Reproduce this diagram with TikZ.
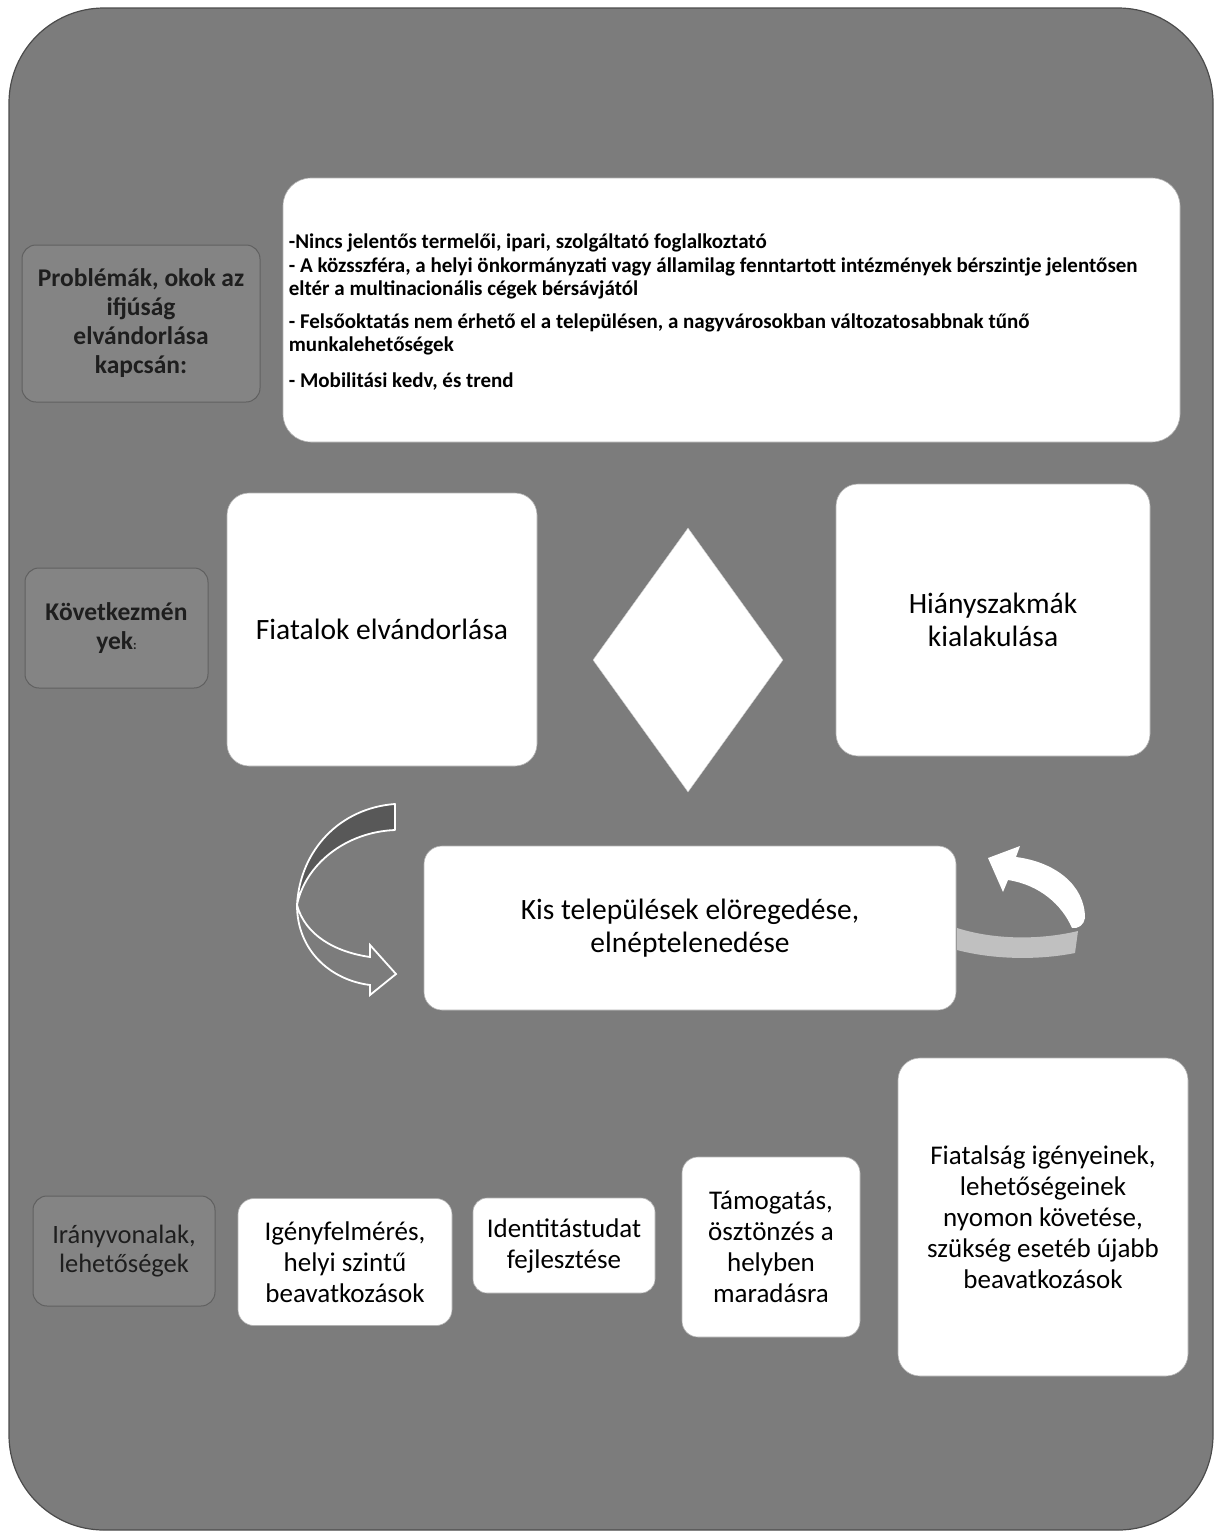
\documentclass[tikz,border=0pt]{standalone}
\usepackage{fontspec}
\setmainfont{Carlito}
\usetikzlibrary{shapes.geometric}
\definecolor{bggray}{RGB}{124,124,124}
\definecolor{framec}{RGB}{75,75,75}
\definecolor{lblfill}{RGB}{132,132,132}
\definecolor{lblborder}{RGB}{96,96,96}
\definecolor{lbltext}{RGB}{30,30,30}
\definecolor{darkband}{RGB}{88,88,88}
\definecolor{ribbon}{RGB}{192,192,192}
\begin{document}
\begin{tikzpicture}[x=1pt,y=-1pt,
  wbox/.style={draw=black!30, line width=0.6pt, fill=white, rounded corners=22pt, align=center, inner sep=4pt, text=black},
  lbox/.style={draw=lblborder, line width=1pt, fill=lblfill, rounded corners=14pt, align=center, text=lbltext, inner sep=2pt},
  lblfont/.style={font=\bfseries\fontsize{25.5}{29}\selectfont},
  bigfont/.style={font=\fontsize{29.5}{33}\selectfont},
  midfont/.style={font=\fontsize{27}{31}\selectfont},
]
\useasboundingbox (0,0) rectangle (1215,1531);
\draw[draw=framec, fill=bggray, line width=1.2pt, rounded corners=95pt] (9,8) rectangle (1213,1530);

% top row
\node[lbox, lblfont, minimum width=238pt, minimum height=157pt] (lab1) at (141,323.5)
  {Problémák, okok az\\ifjúság\\elvándorlása\\kapcsán:};
\node[wbox, rounded corners=28pt, minimum width=897pt, minimum height=264pt] (causes) at (731.5,310) {};
\node[anchor=west, align=left, inner sep=0pt, text=black,
  font=\bfseries\fontsize{21}{23.5}\selectfont] (causestext) at ([xshift=6pt,yshift=-2pt]causes.west)
  {-Nincs jelentős termelői, ipari, szolgáltató foglalkoztató\\
   - A közsszféra, a helyi önkormányzati vagy államilag fenntartott intézmények bérszintje jelentősen\\
   eltér a multinacionális cégek bérsávjától\\[9pt]
   - Felsőoktatás nem érhető el a településen, a nagyvárosokban változatosabbnak tűnő\\
   munkalehetőségek\\[12pt]
   - Mobilitási kedv, és trend};

% middle row
\node[lbox, lblfont, minimum width=183pt, minimum height=120pt] (lab2) at (116.5,628)
  {Következmén\\yek{\fontsize{13}{13}\selectfont:}};
\node[wbox, bigfont, minimum width=310pt, minimum height=273pt] (fiatal) at (382,629.5)
  {Fiatalok elvándorlása};
\node[diamond, fill=white, draw=black!20, minimum width=190pt, minimum height=264pt, inner sep=0pt] (dia) at (688,660) {};
\node[wbox, bigfont, minimum width=314pt, minimum height=272pt] (hiany) at (993,620)
  {Hiányszakmák\\kialakulása};
\node[wbox, bigfont, rounded corners=18pt, minimum width=532pt, minimum height=164pt] (kis) at (690,928)
  {Kis települések elöregedése,\\elnéptelenedése};

% left curved arrow
\path[fill=darkband, draw=white, line width=1.8pt, line join=round]
  (395,804) .. controls (340,808) and (300,850) .. (297,905)
  .. controls (305,865) and (345,832) .. (395,830) -- cycle;
\path[draw=white, line width=1.8pt, line join=miter]
  (297,905) .. controls (305,935) and (335,952) .. (370,957)
  -- (370,945) -- (396,974) -- (370,995) -- (370,985)
  .. controls (330,980) and (297,950) .. (297,905);

% right arrow
\path[fill=ribbon]
  (957,928) .. controls (995,940) and (1040,940) .. (1078,931)
  -- (1075,953) .. controls (1040,960) and (995,960) .. (957,950) -- cycle;
\path[fill=white]
  (1072,928) .. controls (1062,905) and (1040,885) .. (1008,880)
  -- (1003,892) -- (988,858) -- (1020,846) -- (1016,857)
  .. controls (1055,862) and (1085,885) .. (1085,918)
  .. controls (1084,925) and (1078,929) .. (1072,928) -- cycle;

% bottom row
\node[lbox, font=\fontsize{26.5}{28.5}\selectfont, minimum width=182pt, minimum height=110pt] (lab3) at (124,1251)
  {Irányvonalak,\\lehetőségek};
\node[wbox, midfont, rounded corners=16pt, minimum width=214pt, minimum height=127pt] (igeny) at (345,1262)
  {Igényfelmérés,\\helyi szintű\\beavatkozások};
\node[wbox, midfont, rounded corners=14pt, minimum width=182pt, minimum height=95pt] (ident) at (564,1245.5)
  {Identitástudat\\fejlesztése};
\node[wbox, midfont, rounded corners=16pt, minimum width=178pt, minimum height=180pt] (tamog) at (771,1247)
  {Támogatás,\\ösztönzés a\\helyben\\maradásra};
\node[wbox, midfont, rounded corners=22pt, minimum width=290pt, minimum height=318pt] (kovet) at (1043,1217)
  {Fiatalság igényeinek,\\lehetőségeinek\\nyomon követése,\\szükség esetéb újabb\\beavatkozások};
\end{tikzpicture}
\end{document}
